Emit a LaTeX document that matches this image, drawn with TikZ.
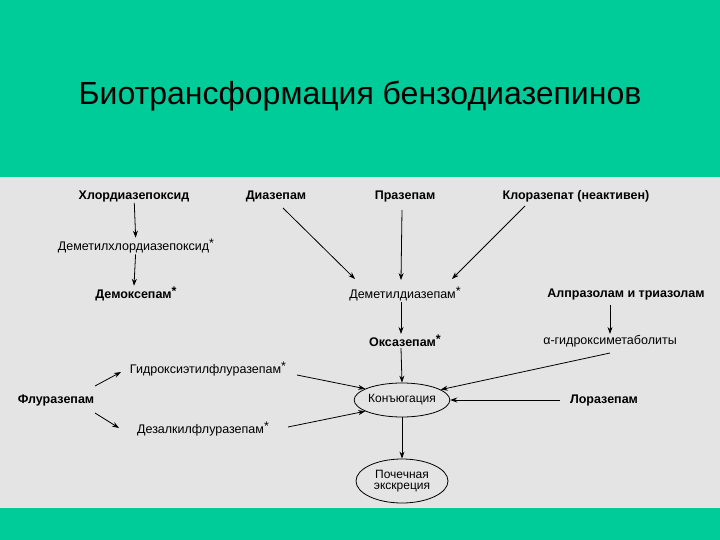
\documentclass[tikz,border=0pt]{standalone}
\usepackage{fontspec}
\setmainfont{Liberation Sans}
\usetikzlibrary{arrows.meta,shapes.geometric}
\definecolor{teal1}{RGB}{0,204,153}
\definecolor{panel}{RGB}{228,228,228}
\begin{document}
\begin{tikzpicture}[x=1pt,y=-1pt,
  lbl/.style={font=\fontsize{12.5}{14}\selectfont,inner sep=1pt},
  blbl/.style={lbl,font=\fontsize{12.5}{14}\selectfont\bfseries},
  ell/.style={draw,ellipse,line width=0.8pt,inner sep=0pt,font=\fontsize{12}{13}\selectfont,align=center},
  arr/.style={-{Stealth[length=7pt,width=5pt]},line width=0.8pt}]
\fill[teal1] (0,0) rectangle (720,540);
\useasboundingbox (0,0) rectangle (720,540);
\fill[panel] (0,177) rectangle (720,508);
\node[font=\fontsize{32}{36}\selectfont] (title) at (360,96) {Биотрансформация бензодиазепинов};
\node[blbl] (chl) at (134,196) {Хлордиазепоксид};
\node[blbl] (dia) at (276,196) {Диазепам};
\node[blbl] (pra) at (405,196) {Празепам};
\node[blbl] (clo) at (576,196) {Клоразепат (неактивен)};
\node[lbl] (dmc) at (136,246) {Деметилхлордиазепоксид\raisebox{3pt}{*}};
\node[blbl] (dmx) at (136,294) {Демоксепам\raisebox{3pt}{*}};
\node[lbl] (dmd) at (405,294) {Деметилдиазепам\raisebox{3pt}{*}};
\node[blbl] (alp) at (626,294) {Алпразолам и триазолам};
\node[blbl] (oxa) at (405,341) {Оксазепам\raisebox{3pt}{*}};
\node[lbl] (ahm) at (610,341) {α-гидроксиметаболиты};
\node[lbl] (hef) at (208,369) {Гидроксиэтилфлуразепам\raisebox{3pt}{*}};
\node[blbl] (flu) at (56,400) {Флуразепам};
\node[ell,minimum width=95pt,minimum height=34pt] (con) at (402,400) {Конъюгация};
\node[blbl] (lor) at (604,400) {Лоразепам};
\node[lbl] (daf) at (203,429) {Дезалкилфлуразепам\raisebox{3pt}{*}};
\node[ell,minimum width=92pt,minimum height=44pt] (ren) at (402,481) {Почечная\\[-2pt]экскреция};
\coordinate (diaS) at (283,208);
\coordinate (praS) at (402,210);
\coordinate (cloS) at (525,206);
\coordinate (ahmS) at (610,353);
\coordinate (lorW) at (560,400);
\coordinate (fluN) at (95,386);
\coordinate (fluS) at (95,413);
\coordinate (hefE) at (297,375);
\coordinate (dafE) at (288,427);
\draw[arr] (chl) -- (dmc);
\draw[arr] (dmc) -- ([xshift=-2pt]dmx.north);
\draw[arr] (diaS) -- (355,279);
\draw[arr] (praS) -- (401,280);
\draw[arr] (cloS) -- (452,279);
\draw[arr] ([xshift=-4pt]dmd.south) -- ([xshift=-4pt]oxa.north);
\draw[arr] ([xshift=-4pt]oxa.south) -- ([xshift=0pt]con.north);
\draw[arr] (610,305) -- (ahm.north);
\draw[arr] (ahmS) -- (con.15);
\draw[arr] (lorW) -- (con.east);
\draw[arr] (fluN) -- (121,372);
\draw[arr] (fluS) -- (119,428);
\draw[arr] (hefE) -- (con.163);
\draw[arr] (dafE) -- (con.197);
\draw[arr] (con.south) -- (ren.north);
\end{tikzpicture}
\end{document}
